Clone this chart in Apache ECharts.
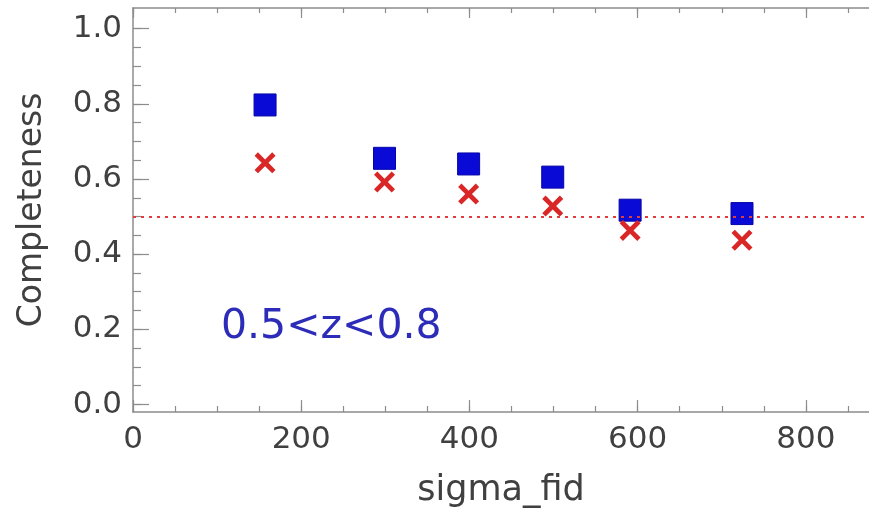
<!DOCTYPE html>
<html>
<head>
<meta charset="utf-8">
<script src="https://cdn.jsdelivr.net/npm/echarts@6/dist/echarts.min.js"></script>
<style>
  html, body { margin: 0; padding: 0; background: #fff; }
  #chart { width: 869px; height: 513px; }
</style>
</head>
<body>
<div id="chart"></div>
<script>
// data
var sigmaFid = [157, 299, 399, 499, 591, 724];
var blueCompleteness = [0.797, 0.655, 0.640, 0.605, 0.517, 0.508];
var redCompleteness = [0.643, 0.592, 0.560, 0.528, 0.463, 0.437];
var threshold = 0.5;
var xMajorTicks = [0, 200, 400, 600, 800];
var xMinorTicks = [0, 50, 100, 150, 200, 250, 300, 350, 400, 450, 500, 550, 600, 650, 700, 750, 800, 850];
var yMajorTicks = [0, 0.2, 0.4, 0.6, 0.8, 1.0];
var yMinorTicks = [0, 0.05, 0.1, 0.15, 0.2, 0.25, 0.3, 0.35, 0.4, 0.45, 0.5, 0.55, 0.6, 0.65, 0.7, 0.75, 0.8, 0.85, 0.9, 0.95, 1.0];
var zLabel = '0.5<z<0.8';

var font = 'DejaVu Sans';
var axisGray = '#8c8c8c';
var textGray = '#404040';

// thick "x" as a filled outline
var crossPath = 'path://M0,1.6L1.6,0L5,3.4L8.4,0L10,1.6L6.6,5L10,8.4L8.4,10L5,6.6L1.6,10L0,8.4L3.4,5Z';

function pairs(xs, ys) {
    return xs.map(function (x, i) { return [x, ys[i]]; });
}

function xAxisDef(pos, ticks, len, withLabels, withLine) {
    return {
        type: 'value',
        position: pos,
        min: 0,
        max: 875,
        splitLine: { show: false },
        axisLine: { show: withLine, onZero: false, lineStyle: { color: axisGray, width: 1.5 } },
        axisTick: { show: true, inside: true, length: len, customValues: ticks,
            lineStyle: { color: axisGray, width: 1.2 } },
        axisLabel: withLabels ? {
            show: true, customValues: xMajorTicks, margin: 12,
            fontFamily: font, fontSize: 31, color: textGray
        } : { show: false },
        name: withLabels ? 'sigma_fid' : '',
        nameLocation: 'middle',
        nameGap: 61,
        nameTextStyle: { fontFamily: font, fontSize: 35, color: textGray }
    };
}

function yAxisDef(ticks, len, withLabels, withLine) {
    return {
        type: 'value',
        position: 'left',
        min: -0.02,
        max: 1.055,
        splitLine: { show: false },
        axisLine: { show: withLine, onZero: false, lineStyle: { color: axisGray, width: 1.5 } },
        axisTick: { show: true, inside: true, length: len, customValues: ticks,
            lineStyle: { color: axisGray, width: 1.2 } },
        axisLabel: withLabels ? {
            show: true, customValues: yMajorTicks, margin: 11,
            fontFamily: font, fontSize: 31, color: textGray,
            formatter: function (v) { return v.toFixed(1); }
        } : { show: false },
        name: withLabels ? 'Completeness' : '',
        nameLocation: 'middle',
        nameGap: 84,
        nameTextStyle: { fontFamily: font, fontSize: 33, color: textGray }
    };
}

var chart = echarts.init(document.getElementById('chart'), null, { renderer: 'canvas' });
chart.setOption({
    animation: false,
    backgroundColor: '#ffffff',
    title: {
        text: zLabel,
        left: 216,
        top: 302,
        textStyle: { fontFamily: font, fontSize: 41, fontWeight: 'normal', color: '#2c2cb8' }
    },
    grid: { left: 133, right: 0, top: 8, bottom: 98 },
    xAxis: [
        xAxisDef('bottom', xMinorTicks, 6, true, true),
        xAxisDef('bottom', xMajorTicks, 12, false, false),
        xAxisDef('top', xMinorTicks, 5, false, true),
        xAxisDef('top', xMajorTicks, 10, false, false)
    ],
    yAxis: [
        yAxisDef(yMinorTicks, 8, true, true),
        yAxisDef(yMajorTicks, 16, false, false)
    ],
    series: [
        {
            type: 'line',
            data: [],
            z: 1,
            markLine: {
                silent: true,
                symbol: 'none',
                label: { show: false },
                lineStyle: { color: '#e03c3c', width: 2, type: [3, 5] },
                data: [{ yAxis: threshold }]
            }
        },
        {
            type: 'scatter',
            z: 3,
            symbol: 'rect',
            symbolSize: 22,
            itemStyle: { color: '#0a0ad6', borderColor: '#0606a8', borderWidth: 1, opacity: 1 },
            data: pairs(sigmaFid, blueCompleteness)
        },
        {
            type: 'scatter',
            z: 4,
            symbol: crossPath,
            symbolSize: 21,
            itemStyle: { color: '#d92626', opacity: 1 },
            data: pairs(sigmaFid, redCompleteness)
        }
    ]
});
</script>
</body>
</html>
